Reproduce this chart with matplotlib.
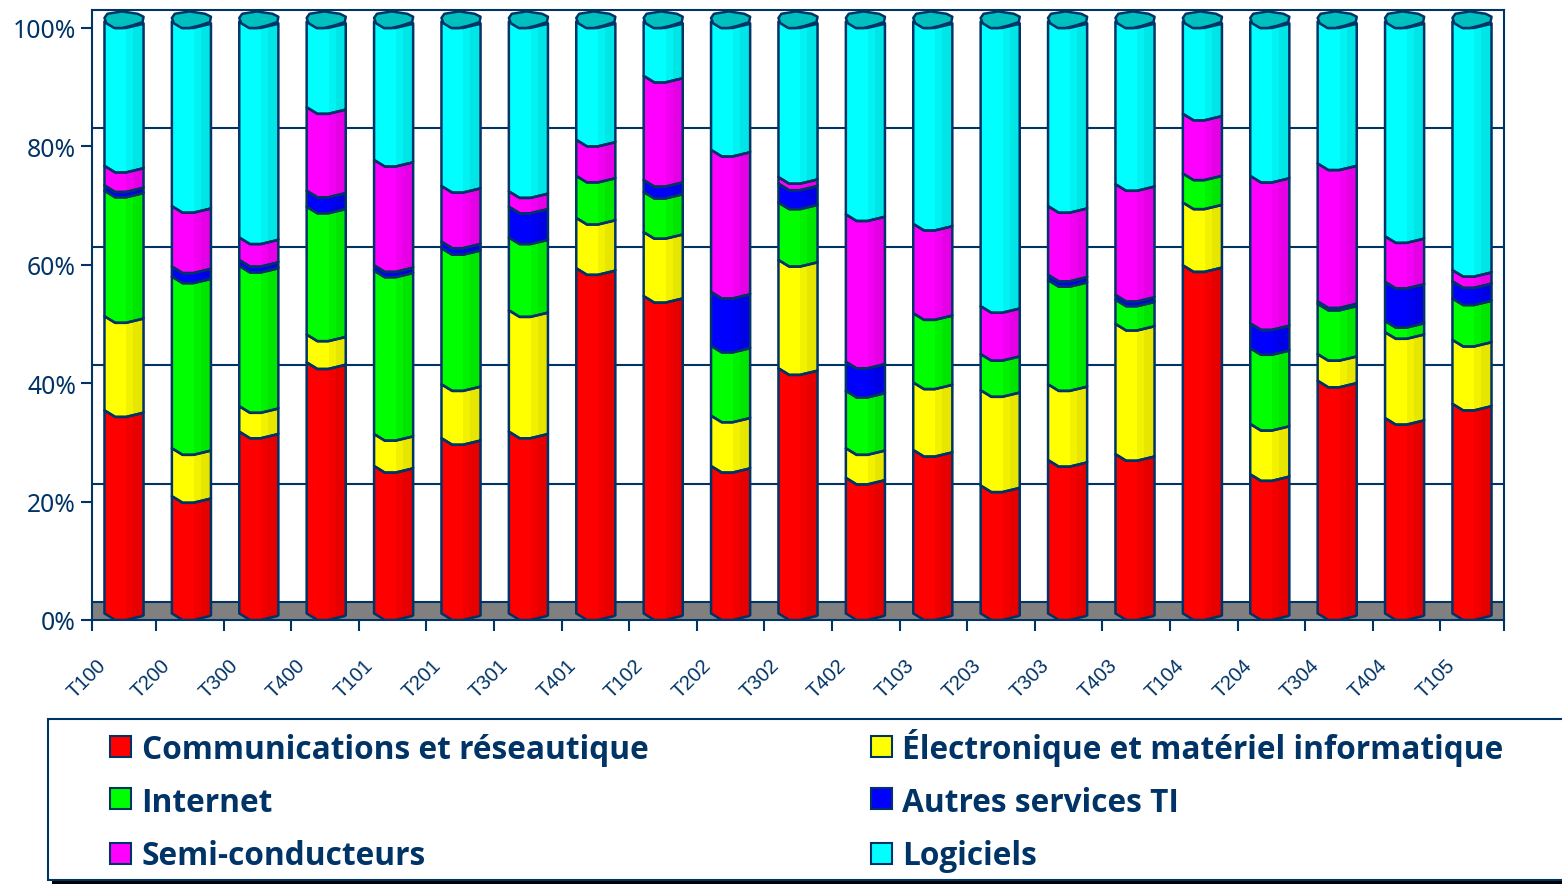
import numpy as np
import matplotlib
matplotlib.use("Agg")
import matplotlib.pyplot as plt
from matplotlib.patches import Polygon, Rectangle
from matplotlib.transforms import ScaledTranslation

quarters = ["T100", "T200", "T300", "T400", "T101", "T201", "T301", "T401", "T102", "T202", "T302",
            "T402", "T103", "T203", "T303", "T403", "T104", "T204", "T304", "T404", "T105"]

communications = [34.3, 19.8, 30.7, 42.4, 24.9, 29.6, 30.7, 58.3, 53.6, 24.9, 41.4,
                  22.9, 27.6, 21.6, 25.9, 26.9, 58.8, 23.5, 39.3, 33.0, 35.4]
electronique = [15.9, 8.1, 4.3, 4.7, 5.4, 9.1, 20.5, 8.5, 10.8, 8.5, 18.3,
                5.0, 11.4, 16.1, 12.8, 22.0, 10.6, 8.5, 4.5, 14.5, 10.8]
internet = [21.2, 29.0, 23.7, 21.6, 27.6, 23.0, 12.3, 7.1, 6.8, 11.8, 9.7,
            9.7, 11.7, 6.1, 17.6, 4.1, 4.9, 12.8, 8.5, 1.9, 7.0]
autres = [0.9, 1.7, 1.0, 2.7, 0.9, 1.1, 5.2, 0.0, 2.0, 9.1, 3.2,
          4.9, 0.0, 0.0, 0.9, 0.8, 0.0, 4.2, 0.4, 6.6, 2.9]
semi = [3.3, 10.2, 3.8, 14.1, 17.8, 9.4, 2.6, 6.1, 17.6, 24.0, 1.1,
        24.9, 15.1, 8.1, 11.6, 18.7, 10.1, 24.9, 23.3, 7.7, 1.9]
logiciels = [24.4, 31.2, 36.5, 14.5, 23.4, 27.8, 28.7, 20.0, 9.2, 21.7, 26.3,
             32.6, 34.2, 48.1, 31.2, 27.5, 15.6, 26.1, 24.0, 36.3, 42.0]

names = ["Communications et réseautique", "Électronique et matériel informatique", "Internet",
         "Autres services TI", "Semi-conducteurs", "Logiciels"]
series = [communications, electronique, internet, autres, semi, logiciels]
colors = ["#ff0000", "#ffff00", "#00ff00", "#0000ff", "#ff00ff", "#00ffff"]

navy = "#003366"
lw = 1.5
bar_lw = 1.8
half = 0.29  # half bar width in category units
depth = 3.04  # back wall offset of the fake 3d box

fig = plt.figure(figsize=(15.62, 8.84), dpi=100)
ax = fig.add_axes([92 / 1562, 264 / 884, 1412 / 1562, 610 / 884])
ax.set_xlim(-0.475, 20.475)
ax.set_ylim(0, 103.04)

# floor and back wall lines
ax.axhspan(0, depth, color="#808080", zorder=1, lw=0)
for v in [0, 20, 40, 60, 80]:
    ax.axhline(v + depth, color=navy, lw=lw, zorder=2)

# curve of a slice edge, left to right
lip_x = np.array([-1, -0.92, -0.45, 0.1, 0.92, 1])
lip_y = np.array([1.1, 0.95, 0.0, 0.0, 0.65, 0.8])
lid_x = np.array([-1, -0.85, -0.1, 0.7, 1, 0.95, 0.4, -0.1, -0.5, -0.9])
lid_y = np.array([1.7, 2.4, 2.8, 2.4, 1.9, 1.0, 0.4, 0.0, 0.0, 0.8])


def curve(i, v):
    return np.column_stack([i + lip_x * half, v + lip_y])


bottoms = np.zeros(len(quarters))
for vals, col in zip(series, colors):
    rgb = np.array(matplotlib.colors.to_rgb(col))
    for i, h in enumerate(vals):
        if h <= 0:
            continue
        b = bottoms[i]
        verts = np.vstack([curve(i, b), curve(i, b + h)[::-1]])
        shape = Polygon(verts, closed=True, fc=col, ec="none", zorder=3)
        ax.add_patch(shape)
        bands = ax.bar([i + half * 0.30, i + half * 0.74], 103,
                       width=[half * 0.36, half * 0.52], bottom=0,
                       color=[rgb * 0.95, rgb * 0.90], zorder=3.1, lw=0)
        for r in bands:
            r.set_clip_path(shape)
        ax.add_patch(Polygon(verts, closed=True, fc="none", ec=navy, lw=bar_lw, zorder=3.2, joinstyle="round"))
    bottoms += np.array(vals)

# lids on top of the cylinders
for i in range(len(quarters)):
    ax.add_patch(Polygon(np.column_stack([i + lid_x * half, bottoms[i] + lid_y]), closed=True,
                         fc="#00bfbf", ec=navy, lw=bar_lw, zorder=3.3, joinstyle="round"))

for s in ax.spines.values():
    s.set_color(navy)
    s.set_linewidth(lw)

ax.set_yticks([0, 20, 40, 60, 80, 100])
ax.set_yticklabels(["0%", "20%", "40%", "60%", "80%", "100%"], family="Noto Sans", fontsize=17.8, color=navy)
ax.tick_params(axis="y", length=8, width=lw, color=navy, pad=3.5)
yshift = ScaledTranslation(0, -1 / 100, fig.dpi_scale_trans)
for t in ax.get_yticklabels():
    t.set_transform(t.get_transform() + yshift)

tick_pos = np.r_[-0.475, 0.475 + np.arange(20) * 67.6 / 67.4, 20.475]
ax.set_xticks(tick_pos)
ax.set_xticklabels(quarters + [""], family=["Liberation Sans Narrow", "Liberation Sans"], fontsize=14.5,
                   color=navy, rotation=45, ha="center", va="top")
ax.tick_params(axis="x", length=8, width=lw, color=navy, pad=18)
shift = ScaledTranslation(-5 / 100, 0, fig.dpi_scale_trans)
for t in ax.get_xticklabels():
    t.set_transform(t.get_transform() + shift)

# legend panel drawn in pixel coordinates, it runs off the right edge
pan = fig.add_axes([0, 0, 1, 1], facecolor="none")
pan.set_xlim(0, 1562)
pan.set_ylim(884, 0)
pan.axis("off")
pan.add_patch(Rectangle((52, 881), 1520, 4, fc="black", ec="none"))
pan.add_patch(Rectangle((48, 719), 1530, 161, fc="white", ec=navy, lw=lw))
col_x = [110, 871]
row_y = [746.5, 798.5, 853]
base_y = [759, 811.5, 865]
for k, (name, col) in enumerate(zip(names, colors)):
    x = col_x[k % 2]
    pan.add_patch(Rectangle((x, row_y[k // 2] - 10.5), 21, 21, fc=col, ec=navy, lw=lw))
    pan.text(x + 31.5, base_y[k // 2], name, family="Open Sans", fontweight="bold", fontsize=22.8, color=navy,
             va="baseline", ha="left")

plt.savefig("out.png", dpi=100)
